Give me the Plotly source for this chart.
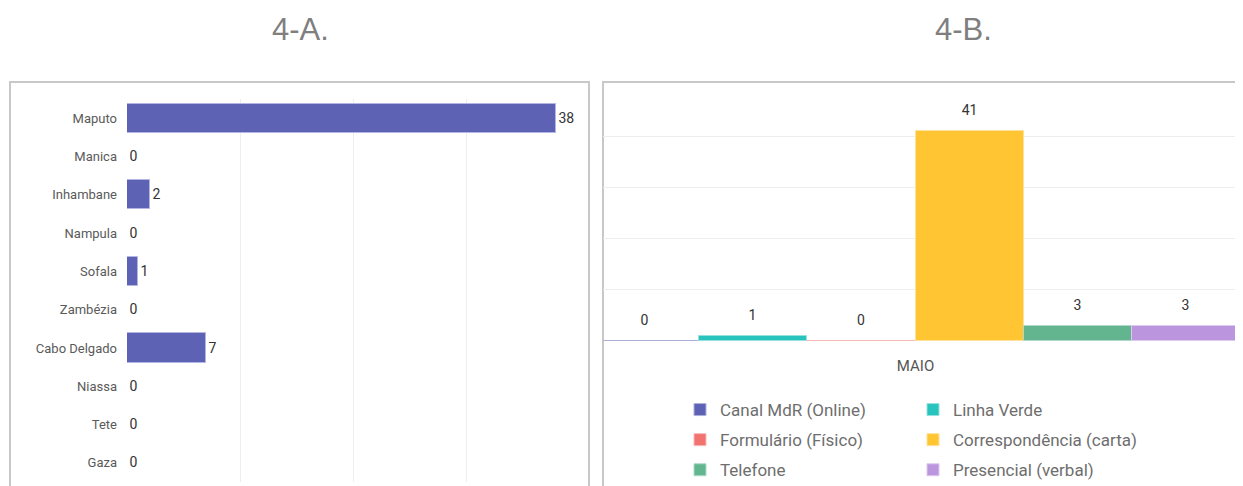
import plotly.graph_objects as go

# ---- data ----
provinces = ["Maputo", "Manica", "Inhambane", "Nampula", "Sofala",
             "Zambézia", "Cabo Delgado", "Niassa", "Tete", "Gaza"]
province_values = [38, 0, 2, 0, 1, 0, 7, 0, 0, 0]

month = ["MAIO"]
channels = ["Canal MdR (Online)", "Linha Verde", "Formulário (Físico)",
            "Correspondência (carta)", "Telefone", "Presencial (verbal)"]
channel_values = [0, 1, 0, 41, 3, 3]
channel_colors = ["#5D62B5", "#29C3BE", "#F2726F", "#FFC533", "#62B58F", "#BC95DF"]
channel_lines = ["#AEB0DA", "#94E1DE", "#F8B8B7", "#FFE299", "#B0DAC7", "#DDCAEF"]

title_left = "4-A."
title_right = "4-B."

OFF = 8                      # page body margin
W, H = 1243 - OFF, 486 - OFF
FONT = "Source Sans Pro, Liberation Sans Narrow, Roboto, sans-serif"

fig = go.Figure()

fig.add_trace(go.Bar(
    y=provinces, x=province_values, orientation="h",
    marker=dict(color="#5D62B5", line=dict(color="#B3B5E3", width=1)),
    text=province_values, textposition="outside", cliponaxis=False,
    textfont=dict(size=14, color="#333333", family=FONT),
    width=0.76, showlegend=False, hoverinfo="skip",
    xaxis="x", yaxis="y",
))

for i, (name, v, c, lc) in enumerate(zip(channels, channel_values, channel_colors, channel_lines)):
    fig.add_trace(go.Bar(
        x=month, y=[v], name=name,
        marker=dict(color=c, line=dict(color=lc, width=1)),
        text=[v],
        texttemplate="<span style='font-size:14px'>%{y}</span><br> ",
        textposition="outside", cliponaxis=False,
        textfont=dict(size=8, color="#333333", family=FONT),
        xaxis="x2", yaxis="y2", hoverinfo="skip",
        legend="legend" if i % 2 == 0 else "legend2",
        legendgroup=name,
    ))

def px(x):
    return (x - OFF) / W

def py(y):
    return 1 - (y - OFF) / H

legend_common = dict(orientation="v", yanchor="top", xanchor="left",
                     font=dict(size=17, color="#6E6E6E", family=FONT),
                     tracegroupgap=5, itemclick=False, itemdoubleclick=False,
                     traceorder="grouped", bgcolor="rgba(0,0,0,0)")

# right plot: bars span 591..1240 px, visible area starts at the frame (603)
bar_left, bar_right, frame_left = 591, 1240, 603
x2_start = -0.5 + (frame_left - bar_left) / (bar_right - bar_left)

fig.update_layout(
    width=W, height=H,
    margin=dict(l=0, r=0, t=0, b=0, autoexpand=False),
    paper_bgcolor="white", plot_bgcolor="white",
    barmode="group", bargap=0, bargroupgap=0,
    font=dict(family=FONT, color="#555555"),
    xaxis=dict(domain=[px(127), px(579)], range=[0, 40], tickvals=[0, 10, 20, 30, 40],
               showticklabels=False, showgrid=True, gridcolor="#EDEDED",
               zeroline=False, showline=False, fixedrange=True),
    yaxis=dict(domain=[py(482), py(99)], autorange="reversed",
               categoryorder="array", categoryarray=provinces,
               tickfont=dict(size=13, color="#5A5A5A", family=FONT),
               ticks="", ticklabelstandoff=9, showgrid=False, zeroline=False,
               showline=False, anchor="x"),
    xaxis2=dict(domain=[px(frame_left), px(bar_right)], anchor="y2",
                range=[x2_start, 0.5],
                tickfont=dict(size=15, color="#555555", family=FONT),
                ticks="", ticklabelstandoff=14, showgrid=False, showline=False,
                zeroline=False),
    yaxis2=dict(domain=[py(341), py(85)], anchor="x2", range=[0, 50],
                tickvals=[0, 10, 20, 30, 40], showticklabels=False,
                showgrid=True, gridcolor="#EDEDED", zeroline=False, showline=False),
    legend=dict(x=px(680), y=py(392), **legend_common),
    legend2=dict(x=px(913), y=py(392), **legend_common),
    showlegend=True,
)

# panel frames
fig.add_shape(type="rect", xref="paper", yref="paper",
              x0=px(10), x1=px(589), y0=py(H + 30), y1=py(82),
              line=dict(color="#C8C8C8", width=2), layer="below")
fig.add_shape(type="rect", xref="paper", yref="paper",
              x0=px(603), x1=px(1243 + 10), y0=py(H + 30), y1=py(82),
              line=dict(color="#C8C8C8", width=2), layer="below")

for t, cx in [(title_left, 300), (title_right, 963)]:
    fig.add_annotation(text=t, xref="paper", yref="paper", x=px(cx), y=py(30),
                       xanchor="center", yanchor="middle", showarrow=False,
                       font=dict(family="Liberation Sans, Arial, sans-serif", size=31,
                                 color="#7F7F7F"))

fig.write_html("out.html")
